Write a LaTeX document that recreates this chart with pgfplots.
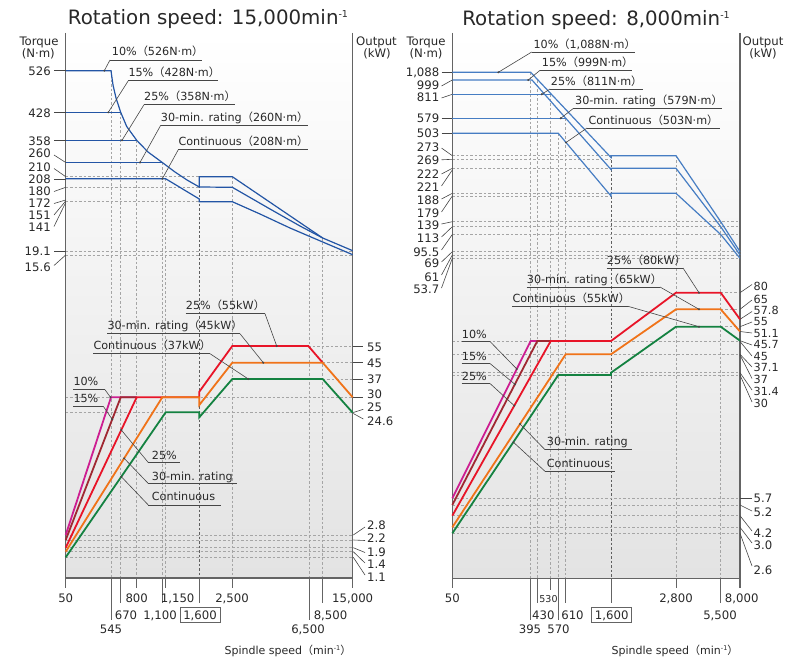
\documentclass[border=0pt]{standalone}
\usepackage{pgfplots}
\pgfplotsset{compat=1.18}
\usepackage{fontspec}
\setmainfont{DejaVu Sans}
\newfontfamily\cjk{Noto Sans CJK JP}
\definecolor{txt}{RGB}{40,40,40}
\definecolor{axc}{RGB}{100,100,100}
\definecolor{gridc}{RGB}{165,165,165}
\definecolor{gridd}{RGB}{95,95,95}
\definecolor{leadc}{RGB}{70,70,70}
\definecolor{tqA}{RGB}{35,85,165}
\definecolor{tqB}{RGB}{70,125,195}
\definecolor{cmag}{RGB}{205,30,145}
\definecolor{cbrn}{RGB}{160,40,50}
\definecolor{cred}{RGB}{232,20,40}
\definecolor{cora}{RGB}{240,115,25}
\definecolor{cgrn}{RGB}{20,130,65}
\newcommand\fs[1]{\fontsize{#1}{#1}\selectfont}
\newcommand\lp{{\cjk （}}
\newcommand\rp{{\cjk ）}}
\newcommand\tk{\fs{11.7}}
\newcommand\tks{\fs{11.2}}
\newcommand\an{\fs{11.2}}
\tikzset{
 dsh/.style={gridc,line width=0.6pt,dash pattern=on 2.5pt off 2pt},
 dshd/.style={gridd,line width=0.8pt,dash pattern=on 2.5pt off 2pt},
 ldr/.style={leadc,line width=0.6pt},
 ax/.style={axc,line width=1.3pt},
 lab/.style={inner sep=0pt,text=txt},
}
\newcommand\LE[3]{\node[lab,anchor=base east,font=\tk] at (#1,#2) {#3};}
\newcommand\LW[3]{\node[lab,anchor=base west,font=\tk] at (#1,#2) {#3};}
\newcommand\LWs[3]{\node[lab,anchor=base west,font=\tks] at (#1,#2) {#3};}
\newcommand\LC[3]{\node[lab,anchor=base,font=\tk] at (#1,#2) {#3};}
\newcommand\ld[4]{\draw[ldr] (#1,#2)--(#3,#4);}
\newcommand\hd[3]{\draw[dsh] (#2,#1)--(#3,#1);}
\newcommand\vd[3]{\draw[dsh] (#1,#2)--(#1,#3);}
\newcommand\annot[9]{\node[lab,anchor=base west,font=\an] at (#1,#2) {#3};
 \draw[ldr] (#4,#6)--(#5,#6); \draw[ldr] (#7,#6)--(#8,#9);
 \fill[leadc] (#8,#9) circle[radius=1.1pt];}
\begin{document}
\begin{tikzpicture}
\useasboundingbox (0,0) rectangle (789pt,661pt);
\begin{axis}[width=789pt,height=661pt,scale only axis,xmin=0,xmax=789,ymin=0,ymax=661,
 y dir=reverse,hide axis,clip=false]
% backgrounds
\fill[top color=white,bottom color=black!11] (65.7,33) rectangle (352.7,578);
\fill[top color=white,bottom color=black!11] (452.3,33) rectangle (740,578.3);
% ---------- LEFT dashed grid
\vd{111}{70.7}{578}\vd{120.7}{112.3}{578}\vd{136.7}{140.3}{578}\vd{162.3}{162.5}{578}
\vd{165.7}{178.8}{578}\vd{232.3}{176.7}{578}\vd{309.3}{229}{578}\vd{322.7}{238}{578}
\draw[dshd] (199.3,176.7)--(199.3,578);
\hd{176.7}{65.7}{199.3}\hd{187.3}{65.7}{199.3}\hd{201.7}{65.7}{199.3}
\hd{251}{65.7}{352.7}\hd{255}{65.7}{352.7}
\hd{346}{308.3}{352.7}\hd{362.7}{322.7}{352.7}\hd{379}{322.7}{352.7}
\hd{397.3}{65.7}{352.7}\hd{412.3}{65.7}{352.7}
\hd{535}{65.7}{352.7}\hd{540}{65.7}{352.7}\hd{547.7}{65.7}{352.7}\hd{551.7}{65.7}{352.7}\hd{557.3}{65.7}{352.7}
% ---------- RIGHT dashed grid
\vd{530.7}{72.3}{578.3}\vd{537.3}{80}{578.3}\vd{550.7}{94.3}{578.3}\vd{558.3}{133.3}{578.3}
\vd{565.7}{118.3}{578.3}\vd{676}{155.7}{578.3}\vd{720.7}{221.7}{578.3}
\draw[dshd] (611,155.7)--(611,578.3);
\hd{155.7}{452.3}{611}\hd{159.3}{452.3}{611}\hd{168.3}{452.3}{611}\hd{193.3}{452.3}{611}\hd{196}{452.3}{611}
\hd{221.7}{452.3}{740}\hd{226.7}{452.3}{740}\hd{234.5}{452.3}{740}\hd{251.7}{452.3}{740}\hd{255}{452.3}{740}\hd{258.3}{452.3}{740}
\hd{292.7}{720.7}{740}\hd{309.3}{720.7}{740}\hd{326.7}{720.7}{740}
\hd{341}{452.3}{740}\hd{354.3}{452.3}{740}\hd{372.7}{452.3}{740}\hd{375}{452.3}{740}
\hd{498.3}{452.3}{740}\hd{505}{452.3}{740}\hd{515.7}{452.3}{740}\hd{527.3}{452.3}{740}\hd{533.3}{452.3}{740}
% ---------- axes frames and ticks
\draw[ax] (65.7,33)--(65.7,588);\draw[ax] (352.7,33)--(352.7,588);\draw[ax] (65.7,578)--(352.7,578);
\draw[ax] (452.3,33)--(452.3,588);\draw[ax] (740,33)--(740,588);\draw[ax] (452.3,578.3)--(740,578.3);
\draw[axc,line width=1pt] (111,578)--(111,620) (120.7,578)--(120.7,603) (136.7,578)--(136.7,588)
 (162.3,578)--(162.3,603) (165.7,578)--(165.7,588) (199.3,578)--(199.3,603) (232.3,578)--(232.3,588)
 (309.3,578)--(309.3,620) (322.7,578)--(322.7,603);
\draw[axc,line width=1pt] (530.7,578)--(530.7,620) (537.3,578)--(537.3,603) (550.7,578)--(550.7,590)
 (558.3,578)--(558.3,620) (565.7,578)--(565.7,603) (611,578)--(611,603) (676,578)--(676,588)
 (720.7,578)--(720.7,603);
% ---------- LEFT torque curves
\addplot[tqA,line width=1.2pt] coordinates {(65.7,70.7)(111,70.7)(113,85)(116,98)(120.7,112.3)(126.7,126.5)(136.7,140.3)(148,152)(162.3,162.5)(175,172)(187,180)(199.3,187)(232.3,187.3)(270,209)(300,226)(322.7,238)(352.7,250.7)};
\addplot[tqA,line width=1.2pt] coordinates {(199.3,187)(199.3,176.7)(232.3,176.7)(322.7,238)};
\addplot[tqA,line width=1.2pt] coordinates {(65.7,112.3)(120.7,112.3)};
\addplot[tqA,line width=1.2pt] coordinates {(65.7,140.3)(136.7,140.3)};
\addplot[tqA,line width=1.2pt] coordinates {(65.7,162.5)(162.3,162.5)};
\addplot[tqA,line width=1.2pt] coordinates {(65.7,178.8)(165.7,178.8)(199.3,199)(199.3,201.7)(232.3,201.7)(260,214)(290,228)(322.7,242)(352.7,254.7)};
% ---------- LEFT power curves
\addplot[cmag,line width=1.8pt] coordinates {(65.7,535)(111,397.3)(136.7,397.3)};
\addplot[cbrn,line width=1.8pt] coordinates {(65.7,540)(120.7,397.3)(136.7,397.3)};
\addplot[cred,line width=1.8pt] coordinates {(65.7,547.7)(136.7,397.3)(199.3,397.3)(199.3,391.7)(232.3,346)(308.3,346)(322.7,362.7)};
\addplot[cora,line width=1.8pt] coordinates {(65.7,551.7)(162.3,397.3)(199.3,397.3)(199.3,405)(232.3,362.7)(322.7,362.7)(352.7,397.3)};
\addplot[cgrn,line width=1.8pt] coordinates {(65.7,557.3)(165.7,412.3)(199.3,412.3)(199.3,417.3)(232.3,379)(322.7,379)(352.7,412.7)};
% ---------- RIGHT torque curves
\addplot[tqB,line width=1.2pt] coordinates {(452.3,72.3)(530.7,72.3)(611,157.5)(611,155.7)(676,155.7)(720.7,221.7)(740,251.7)};
\addplot[tqB,line width=1.2pt] coordinates {(452.3,80)(532,80)(611,169.5)(611,168.3)(676,168.3)(720.7,226.7)(740,255)};
\addplot[tqB,line width=1.2pt] coordinates {(452.3,94.3)(550.7,94.3)};
\addplot[tqB,line width=1.2pt] coordinates {(452.3,118.3)(566,118.3)};
\addplot[tqB,line width=1.2pt] coordinates {(452.3,133.3)(558.3,133.3)(611,196)(611,193.3)(676,193.3)(720.7,234.5)(740,258.3)};
% ---------- RIGHT power curves
\addplot[cmag,line width=1.8pt] coordinates {(452.3,498.3)(530.7,341)(550.7,341)};
\addplot[cbrn,line width=1.8pt] coordinates {(452.3,505)(537.3,341)(550.7,341)};
\addplot[cred,line width=1.8pt] coordinates {(452.3,515.7)(550.7,341)(611,341)(676,292.7)(720.7,292.7)(740,319.3)};
\addplot[cora,line width=1.8pt] coordinates {(452.3,527.3)(565.7,354.3)(611,354.3)(676,309.3)(720.7,309.3)(740,331.5)};
\addplot[cgrn,line width=1.8pt] coordinates {(452.3,533.3)(558.3,375)(611,375)(611,372.7)(676,326.7)(720.7,326.7)(740,340.7)};
% ---------- titles & headers
\node[lab,anchor=base,font=\fs{19.8}] at (208,25) {Rotation speed: 15,000min\raisebox{7.5pt}{\fs{9.5}-1}};
\node[lab,anchor=base,font=\fs{19.8}] at (596,25.8) {Rotation speed: 8,000min\raisebox{7.5pt}{\fs{9.5}-1}};
\LC{39}{46}{Torque}\LC{38.3}{57.6}{(N·m)}\LC{376.5}{46}{Output}\LC{377}{57.6}{(kW)}
\LC{426}{46}{Torque}\LC{426}{57.6}{(N·m)}\LC{763}{46}{Output}\LC{763}{57.6}{(kW)}
% ---------- LEFT torque tick labels
\LE{51}{75}{526}\LE{51}{117}{428}\LE{51}{145}{358}\LE{51}{157.6}{260}\LE{51}{171}{210}
\LE{51}{183.3}{208}\LE{51}{195.6}{180}\LE{51}{207.6}{172}\LE{51}{219.3}{151}\LE{51}{231}{141}
\LE{51}{255.3}{19.1}\LE{51}{271}{15.6}
\ld{54}{70.7}{65.7}{70.7}\ld{54}{112.7}{65.7}{112.7}\ld{54}{140.7}{65.7}{140.7}
\ld{54}{155}{65.7}{162.5}\ld{54}{168.5}{65.7}{176.7}\ld{54}{179}{65.7}{179}
\ld{54}{191.5}{65.7}{187.3}\ld{54}{203.5}{65.7}{200}\ld{54}{215}{65.7}{201}\ld{54}{226.5}{65.7}{202.5}
\ld{54}{251}{65.7}{251}\ld{54}{265.5}{65.7}{255}
% ---------- LEFT output labels
\LW{367}{351}{55}\LW{367}{367.6}{45}\LW{367}{383.6}{37}\LW{367}{398.3}{30}\LW{367}{411.6}{25}\LW{367}{425}{24.6}
\LW{367}{529.3}{2.8}\LW{367}{542.6}{2.2}\LW{367}{556}{1.9}\LW{367}{568.6}{1.4}\LW{367}{581}{1.1}
\ld{352.7}{346}{363}{346}\ld{352.7}{362.7}{363}{362.7}\ld{352.7}{379}{363}{379}\ld{352.7}{397.3}{363}{397.3}
\ld{363.3}{409.3}{353.3}{412.5}\ld{353.3}{413.5}{363.3}{419}
\ld{365}{527}{353.3}{535}\ld{365}{540.5}{353.3}{540}\ld{365}{552.5}{353.3}{547.7}\ld{365}{563}{353.3}{551.7}\ld{365}{575}{353.3}{557.3}
% ---------- RIGHT torque tick labels
\LE{439.5}{76}{1,088}\LE{439.5}{89.3}{999}\LE{439.5}{101.6}{811}\LE{439.5}{122.6}{579}\LE{439.5}{137.6}{503}
\LE{439.5}{151}{273}\LE{439.5}{164.3}{269}\LE{439.5}{178.3}{222}\LE{439.5}{191}{221}\LE{439.5}{204.3}{188}
\LE{439.5}{217.6}{179}\LE{439.5}{229.3}{139}\LE{439.5}{242.6}{113}\LE{439.5}{256}{95.5}\LE{439.5}{267.6}{69}
\LE{439.5}{281}{61}\LE{439.5}{293.6}{53.7}
\ld{441.5}{72.3}{452.3}{72.3}\ld{441.5}{86}{452.3}{80}\ld{441.5}{98}{452.3}{94.3}\ld{441.5}{118.3}{452.3}{118.3}
\ld{441.5}{133.3}{452.3}{133.3}\ld{441.5}{148}{452.3}{155.7}\ld{441.5}{159.8}{452.3}{159.3}\ld{441.5}{174}{452.3}{168.3}
\ld{441.5}{186}{452.3}{170}\ld{441.5}{199}{452.3}{193.3}\ld{441.5}{212}{452.3}{196}\ld{441.5}{224}{452.3}{221.7}
\ld{441.5}{237}{452.3}{226.7}\ld{441.5}{250}{452.3}{234.5}\ld{441.5}{262}{452.3}{251.7}\ld{441.5}{275}{452.3}{255}
\ld{441.5}{288}{452.3}{258.3}
% ---------- RIGHT output labels
\LWs{753.5}{290.8}{80}\LWs{753.5}{303.2}{65}\LWs{753.5}{314.3}{57.8}\LWs{753.5}{325.8}{55}\LWs{753.5}{337.3}{51.1}
\LWs{753.5}{348.8}{45.7}\LWs{753.5}{360.3}{45}\LWs{753.5}{371.8}{37.1}\LWs{753.5}{383.3}{37}\LWs{753.5}{395.6}{31.4}
\LWs{753.5}{407.6}{30}
\LW{753.5}{502.6}{5.7}\LW{753.5}{516}{5.2}\LW{753.5}{537.6}{4.2}\LW{753.5}{549.3}{3.0}\LW{753.5}{574.3}{2.6}
\ld{740}{292.7}{752}{284.5}\ld{740}{309.3}{752}{300}\ld{740}{319.3}{752}{311.5}\ld{740}{326.7}{752}{322}
\ld{740}{331.5}{752}{333}\ld{740}{340.7}{752}{345}\ld{740}{341.5}{752}{356}\ld{740}{354.3}{752}{367}
\ld{740}{355}{752}{378.5}\ld{740}{372.7}{752}{390}\ld{740}{375}{752}{402}
\ld{740}{498.3}{752}{498.3}\ld{740}{505}{752}{511}\ld{740}{515.7}{752}{531}\ld{740}{527.3}{752}{543}\ld{740}{533.3}{752}{566}
% ---------- x labels LEFT
\LC{65.7}{602.3}{50}\LC{136.7}{602.3}{800}\LC{177.7}{602.3}{1,150}\LC{232}{602.3}{2,500}\LC{352.7}{602.3}{15,000}
\LC{126}{619.3}{670}\LC{160}{619.3}{1,100}\LC{200}{619.3}{1,600}\LC{330.5}{619.3}{8,500}
\LC{111}{633.3}{545}\LC{308}{633.3}{6,500}
\draw[axc,line width=0.8pt] (180,607) rectangle (220,622.5);
\node[lab,anchor=base,font=\fs{11}] at (288,654) {Spindle speed\lp min\raisebox{4pt}{\fs{6.5}-1}\rp};
% ---------- x labels RIGHT
\LC{452.3}{602.6}{50}\node[lab,anchor=base,font=\fs{9.5}] at (548.5,602) {530};
\LC{676}{602.6}{2,800}\LC{741.7}{602.6}{8,000}
\LC{543.3}{619.3}{430}\LC{572.5}{619.3}{610}\LC{611.7}{619.3}{1,600}\LC{720}{619.3}{5,500}
\LC{530}{633.6}{395}\LC{558.5}{633.6}{570}
\draw[axc,line width=0.8pt] (591.7,607) rectangle (631.7,622.5);
\node[lab,anchor=base,font=\fs{11}] at (675,654) {Spindle speed\lp min\raisebox{4pt}{\fs{6.5}-1}\rp};
% ---------- annotations LEFT
\annot{111.7}{55.8}{10\%\lp 526N·m\rp}{110}{201.7}{60}{110}{104.3}{70.7}
\annot{128.3}{76.8}{15\%\lp 428N·m\rp}{128.3}{218.3}{80.7}{128.3}{108.3}{112.3}
\annot{144}{100.8}{25\%\lp 358N·m\rp}{144}{235}{104.7}{144}{122}{140.3}
\annot{160.7}{121.4}{30-min. rating\lp 260N·m\rp}{160.7}{308.3}{125.3}{160.7}{140}{162.5}
\annot{178.3}{145.8}{Continuous\lp 208N·m\rp}{178.3}{308.3}{149.7}{178.3}{162.3}{178.8}
\annot{185.7}{309.8}{25\%\lp 55kW\rp}{185.7}{265}{313.7}{265}{276.7}{346}
\annot{107.3}{329.8}{30-min. rating\lp 45kW\rp}{107.3}{240}{333.7}{240}{263.3}{362.7}
\annot{93.3}{349.8}{Continuous\lp 37kW\rp}{93.3}{210}{353.7}{210}{248.3}{379}
\annot{73.3}{385.8}{10\%}{73.3}{105}{389.7}{105}{110.5}{397.3}
\annot{73.3}{402.4}{15\%}{73.3}{103.3}{406.3}{103.3}{112.2}{419.3}
\annot{151.7}{459.1}{25\%}{148.3}{180}{462.5}{148.3}{121.3}{430}
\annot{151.7}{480.1}{30-min. rating}{148.3}{236.7}{483.5}{148.3}{124.1}{458.3}
\annot{151.7}{500.8}{Continuous}{148.3}{220.7}{505}{148.3}{121.3}{476.7}
% ---------- annotations RIGHT
\annot{533.3}{48.1}{10\%\lp 1,088N·m\rp}{531.7}{635}{52}{531.7}{498.3}{72.3}
\annot{541.7}{66.4}{15\%\lp 999N·m\rp}{540}{632}{70.3}{540}{528.3}{80}
\annot{550.7}{85.1}{25\%\lp 811N·m\rp}{550}{643}{89}{550}{541.7}{94.3}
\annot{575}{104.8}{30-min. rating\lp 579N·m\rp}{573}{722}{108.7}{573}{560.7}{118.3}
\annot{588.3}{124.1}{Continuous\lp 503N·m\rp}{587}{720}{128}{587}{566}{142.5}
\annot{606.7}{264.1}{25\%\lp 80kW\rp}{606.7}{683}{268}{683}{699}{292.7}
\annot{526.7}{283.1}{30-min. rating\lp 65kW\rp}{526.7}{660}{287}{660}{699}{309.3}
\annot{512.3}{302.4}{Continuous\lp 55kW\rp}{512.3}{628}{306.3}{628}{699}{326.7}
\annot{461.7}{338.1}{10\%}{461.7}{490}{341.5}{490}{516.8}{369}
\annot{461.7}{360.1}{15\%}{461.7}{490}{363.5}{490}{514.9}{384.3}
\annot{461.7}{380.1}{25\%}{461.7}{490}{383.5}{490}{514.3}{405.7}
\annot{546.7}{445.8}{30-min. rating}{545}{632}{449.7}{545}{520}{424}
\annot{546.7}{467.4}{Continuous}{545}{615}{471.3}{545}{513.5}{442.3}
\end{axis}
\end{tikzpicture}
\end{document}
